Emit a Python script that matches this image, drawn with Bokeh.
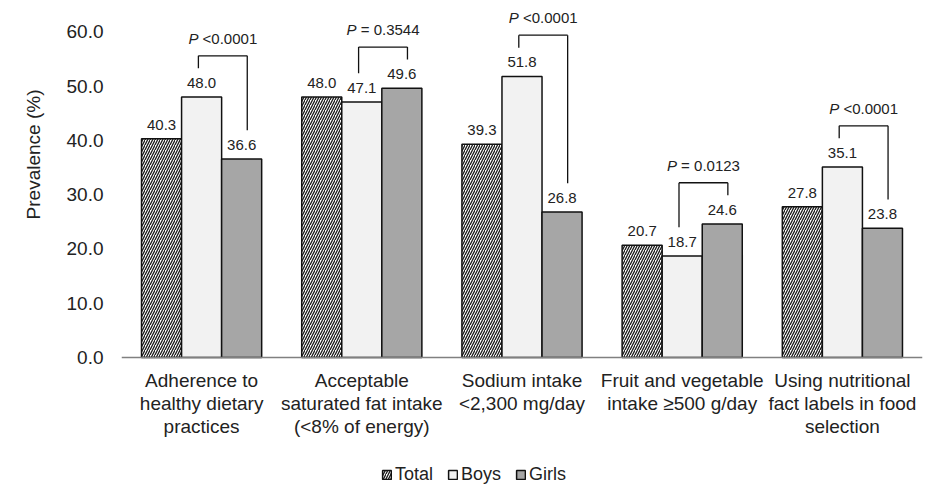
from bokeh.plotting import figure
from bokeh.models import (ColumnDataSource, FactorRange, Range1d, FixedTicker,
                          PrintfTickFormatter, Legend, LegendItem, Span, Title)
from bokeh.transform import dodge
from bokeh.core.properties import value
from bokeh.embed import file_html
from bokeh.resources import INLINE

categories = [
    "Adherence to\nhealthy dietary\npractices",
    "Acceptable\nsaturated fat intake\n(<8% of energy)",
    "Sodium intake\n<2,300 mg/day",
    "Fruit and vegetable\nintake \u2265500 g/day",
    "Using nutritional\nfact labels in food\nselection",
]
total = [40.3, 48.0, 39.3, 20.7, 27.8]
boys = [48.0, 47.1, 51.8, 18.7, 35.1]
girls = [36.6, 49.6, 26.8, 24.6, 23.8]
p_rest = ["<0.0001", "= 0.3544", "<0.0001", "= 0.0123", "<0.0001"]
y_ticks = [0, 10, 20, 30, 40, 50, 60]
y_label = "Prevalence (%)"

FONT = "Liberation Sans"
TXT = "#222222"

# approximate Arial widths (em) for centring the two-part P labels
W = {c: 0.556 for c in "0123456789"}
W.update({".": 0.278, " ": 0.278, "<": 0.584, "=": 0.584, "P": 0.667})
def width(s, size):
    return sum(W.get(c, 0.556) for c in s) * size

PSIZE = 15
leg_gap = 5.3
top_gap = 2.3
lab_gap = 3.2
lb = [b + leg_gap for b in boys]
rb = [g + leg_gap for g in girls]
tp = [max(a, b) + top_gap for a, b in zip(lb, rb)]
ly = [t + lab_gap for t in tp]
wp = width("P", PSIZE)
ws = width(" ", PSIZE)
offs = [-(wp + ws + width(r, PSIZE)) / 2 + wp for r in p_rest]
offs_r = [o + ws for o in offs]

# layout geometry (pixels)
H, TOP = 487, 7
PLOT_H = 350            # pixels from y=0 to y=YMAX
YMAX = 64.5
ppu = PLOT_H / YMAX
YMIN = -(H - TOP - PLOT_H) / ppu
cat_label_y = -12 / ppu

src = ColumnDataSource(dict(cat=categories, total=total, boys=boys, girls=girls,
                            total_s=["%.1f" % v for v in total],
                            boys_s=["%.1f" % v for v in boys],
                            girls_s=["%.1f" % v for v in girls],
                            total_y=[v + 2.6 for v in total],
                            boys_y=[v + 2.6 for v in boys],
                            girls_y=[v + 2.6 for v in girls],
                            lb=lb, rb=rb, tp=tp, ly=ly, rest=p_rest,
                            pp=["P"] * len(categories), offs=offs, offs_r=offs_r,
                            cly=[cat_label_y] * len(categories)))

p = figure(x_range=FactorRange(*categories), y_range=Range1d(YMIN, YMAX),
           width=923, height=H, output_backend="svg", toolbar_location=None,
           min_border_left=121, min_border_right=1, min_border_top=TOP,
           min_border_bottom=0)
p.outline_line_color = None
p.xgrid.visible = False
p.ygrid.visible = False
p.background_fill_color = "white"
p.xaxis.visible = False

p.add_layout(Span(location=0, dimension="width", line_color="#808080", line_width=1.5))

rt = p.vbar(x=dodge("cat", -0.25, range=p.x_range), top="total", width=0.25, source=src,
            fill_color="white", hatch_pattern="/", hatch_color="#1a1a1a",
            hatch_scale=5, hatch_weight=1.3, line_color="#111111", line_width=1.5)
rbx = p.vbar(x=dodge("cat", 0.0, range=p.x_range), top="boys", width=0.25, source=src,
             fill_color="#f2f2f2", line_color="#111111", line_width=1.5)
rg = p.vbar(x=dodge("cat", 0.25, range=p.x_range), top="girls", width=0.25, source=src,
            fill_color="#a6a6a6", line_color="#111111", line_width=1.5)

for off, col, ycol in [(-0.25, "total_s", "total_y"), (0.0, "boys_s", "boys_y"),
                       (0.25, "girls_s", "girls_y")]:
    p.text(x=dodge("cat", off, range=p.x_range), y=ycol, text=col, source=src,
           text_font=value(FONT), text_font_size="15px", text_color=TXT,
           text_align="center", text_baseline="middle")

L, R = -0.02, 0.285
p.segment(x0=dodge("cat", L, range=p.x_range), x1=dodge("cat", L, range=p.x_range),
          y0="lb", y1="tp", source=src, line_color="#111111", line_width=1.3)
p.segment(x0=dodge("cat", R, range=p.x_range), x1=dodge("cat", R, range=p.x_range),
          y0="rb", y1="tp", source=src, line_color="#111111", line_width=1.3)
p.segment(x0=dodge("cat", L, range=p.x_range), x1=dodge("cat", R, range=p.x_range),
          y0="tp", y1="tp", source=src, line_color="#111111", line_width=1.3)

mid = (L + R) / 2
p.text(x=dodge("cat", mid, range=p.x_range), y="ly", text="pp", x_offset="offs", source=src,
       text_font=value(FONT), text_font_size="15px", text_font_style="italic",
       text_color=TXT, text_align="right", text_baseline="middle")
p.text(x=dodge("cat", mid, range=p.x_range), y="ly", text="rest", x_offset="offs_r", source=src,
       text_font=value(FONT), text_font_size="15px", text_color=TXT,
       text_align="left", text_baseline="middle")

# category labels
p.text(x="cat", y="cly", text="cat", source=src, text_font=value(FONT),
       text_font_size="19px", text_color=TXT, text_align="center",
       text_baseline="top", text_line_height=1.1)

# y axis
p.yaxis.ticker = FixedTicker(ticks=y_ticks)
p.yaxis.formatter = PrintfTickFormatter(format="%.1f")
p.yaxis.axis_line_color = None
p.yaxis.major_tick_line_color = None
p.yaxis.minor_tick_line_color = None
p.yaxis.major_label_text_font = FONT
p.yaxis.major_label_text_font_size = "19px"
p.yaxis.major_label_text_color = TXT
p.yaxis.major_label_standoff = 12

ytitle = Title(text=y_label, align="right", offset=82, standoff=40,
               text_font=FONT, text_font_size="19px", text_font_style="normal",
               text_color=TXT)
p.add_layout(ytitle, "left")

legend = Legend(items=[LegendItem(label="Total", renderers=[rt]),
                       LegendItem(label="Boys", renderers=[rbx]),
                       LegendItem(label="Girls", renderers=[rg])],
                orientation="horizontal", location=(260, 2),
                glyph_width=11, glyph_height=11, label_standoff=3, spacing=14,
                padding=0, margin=0, border_line_color=None,
                background_fill_alpha=0, label_text_font=FONT,
                label_text_font_size="18px", label_text_color=TXT,
                label_height=20)
p.add_layout(legend, "center")

open("out.html", "w").write(file_html(p, INLINE))
